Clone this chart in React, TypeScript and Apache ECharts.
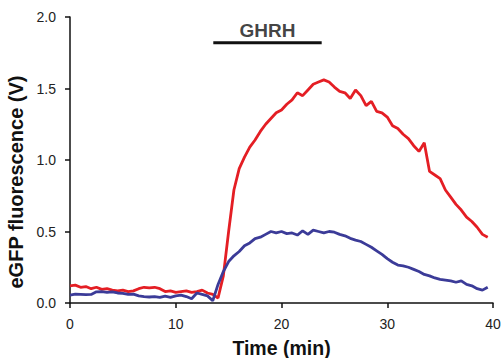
import React, { useEffect, useRef } from "react";
import * as echarts from "echarts";

const times = [
  0, 0.5, 1, 1.5, 2, 2.5, 3, 3.5, 4, 4.5, 5, 5.5, 6, 6.5, 7, 7.5, 8, 8.5, 9, 9.5,
  10, 10.5, 11, 11.5, 12, 12.5, 13, 13.5, 14, 14.5, 15, 15.5, 16, 16.5, 17, 17.5, 18, 18.5, 19, 19.5,
  20, 20.5, 21, 21.5, 22, 22.5, 23, 23.5, 24, 24.5, 25, 25.5, 26, 26.5, 27, 27.5, 28, 28.5, 29, 29.5,
  30, 30.5, 31, 31.5, 32, 32.5, 33, 33.5, 34, 34.5, 35, 35.5, 36, 36.5, 37, 37.5, 38, 38.5, 39, 39.5,
];

const redValues = [
  0.12, 0.125, 0.11, 0.115, 0.1, 0.11, 0.095, 0.1, 0.09, 0.085, 0.09, 0.08, 0.085, 0.1, 0.11, 0.105, 0.11, 0.1, 0.08, 0.085,
  0.075, 0.08, 0.085, 0.075, 0.08, 0.09, 0.07, 0.06, 0.035, 0.19, 0.5, 0.79, 0.94, 1.02, 1.09, 1.14, 1.2, 1.25, 1.29, 1.33,
  1.35, 1.39, 1.42, 1.47, 1.45, 1.49, 1.53, 1.545, 1.56, 1.545, 1.51, 1.48, 1.47, 1.43, 1.49, 1.45, 1.38, 1.41, 1.34, 1.33,
  1.3, 1.24, 1.22, 1.18, 1.15, 1.1, 1.06, 1.12, 0.92, 0.895, 0.87, 0.79, 0.74, 0.69, 0.65, 0.6, 0.57, 0.53, 0.48, 0.46,
];

const blueValues = [
  0.055, 0.062, 0.06, 0.058, 0.06, 0.078, 0.08, 0.075, 0.078, 0.07, 0.068, 0.06, 0.062, 0.05, 0.045, 0.042, 0.045, 0.04, 0.048, 0.04,
  0.05, 0.055, 0.045, 0.03, 0.07, 0.06, 0.05, 0.016, 0.13, 0.22, 0.29, 0.33, 0.36, 0.4, 0.42, 0.45, 0.46, 0.48, 0.5, 0.49,
  0.5, 0.485, 0.49, 0.475, 0.505, 0.48, 0.51, 0.5, 0.49, 0.5, 0.495, 0.48, 0.47, 0.452, 0.44, 0.43, 0.41, 0.39, 0.365, 0.34,
  0.31, 0.285, 0.265, 0.26, 0.25, 0.235, 0.22, 0.2, 0.19, 0.175, 0.165, 0.16, 0.155, 0.145, 0.155, 0.13, 0.12, 0.1, 0.09, 0.11,
];

const stimulusLabel = "GHRH";
const stimulusStart = 13.55;
const stimulusEnd = 23.8;
const stimulusLevel = 1.82;

const xTicks = [0, 10, 20, 30, 40];
const yTicks = [0, 0.5, 1.0, 1.5, 2.0];

const FONT = "'Liberation Sans', Arial, sans-serif";

export default function App() {
  const ref = useRef<HTMLDivElement>(null);
  useEffect(() => {
    if (!ref.current) return;
    const chart = echarts.init(ref.current, undefined, { renderer: "svg" });
    const red = times.map((t, i) => [t, redValues[i]]);
    const blue = times.map((t, i) => [t, blueValues[i]]);
    chart.setOption({
      animation: false,
      backgroundColor: "#fff",
      grid: { left: 70, right: 8, top: 17, bottom: 55, outerBoundsMode: "none", containLabel: false },
      xAxis: {
        type: "value",
        min: xTicks[0],
        max: xTicks[xTicks.length - 1],
        interval: 10,
        offset: 4,
        name: "Time (min)",
        nameLocation: "middle",
        nameGap: 31,
        nameTextStyle: { fontFamily: FONT, fontWeight: "bold", fontSize: 19.5, color: "#111" },
        axisLine: { show: true, lineStyle: { color: "#111", width: 1.5 } },
        axisTick: { show: true, length: 5, lineStyle: { color: "#111", width: 1.5 } },
        axisLabel: { fontFamily: FONT, fontSize: 14, color: "#222", margin: 10 },
        splitLine: { show: false },
      },
      yAxis: {
        type: "value",
        min: yTicks[0],
        max: yTicks[yTicks.length - 1],
        interval: 0.5,
        offset: 3,
        name: "eGFP fluorescence (V)",
        nameLocation: "middle",
        nameGap: 35,
        nameTextStyle: {
          fontFamily: FONT,
          fontWeight: "bold",
          fontSize: 20,
          color: "#111",
          padding: [0, 44, 0, 0],
        },
        axisLine: { show: true, lineStyle: { color: "#111", width: 1.5 } },
        axisTick: { show: true, length: 5, lineStyle: { color: "#111", width: 1.5 } },
        axisLabel: {
          fontFamily: FONT,
          fontSize: 14,
          color: "#222",
          margin: 11,
          formatter: (v: number) => v.toFixed(1),
        },
        splitLine: { show: false },
      },
      series: [
        {
          type: "line",
          data: red,
          showSymbol: false,
          symbol: "none",
          lineStyle: { color: "#e41e24", width: 2.8 },
          z: 3,
        },
        {
          type: "line",
          data: blue,
          showSymbol: false,
          symbol: "none",
          lineStyle: { color: "#3b3b98", width: 2.8 },
          z: 4,
        },
        {
          type: "line",
          data: [
            [stimulusStart, stimulusLevel],
            [stimulusEnd, stimulusLevel],
          ],
          symbol: "none",
          lineStyle: { color: "#111", width: 3 },
          z: 5,
        },
        {
          type: "scatter",
          data: [[(stimulusStart + stimulusEnd) / 2, stimulusLevel]],
          symbolSize: 0,
          label: {
            show: true,
            formatter: stimulusLabel,
            position: "top",
            distance: 3,
            fontFamily: FONT,
            fontWeight: "bold",
            fontSize: 19,
            color: "#111",
          },
          z: 5,
        },
      ],
    });
    return () => chart.dispose();
  }, []);
  return (
    <div
      ref={ref}
      style={{ position: "fixed", left: 0, top: 0, width: 501, height: 358 }}
    />
  );
}
